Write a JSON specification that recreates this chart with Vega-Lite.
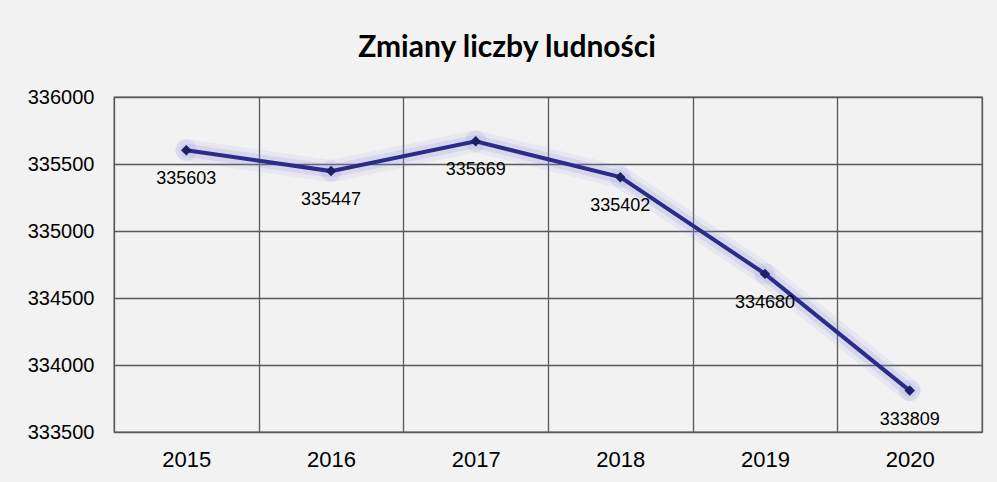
{
  "$schema": "https://vega.github.io/schema/vega-lite/v6.json",
  "autosize": {"type": "none"},
  "padding": {"left": 114, "top": 97, "right": 15, "bottom": 50},
  "width": 868,
  "height": 335,
  "background": "#f2f2f2",
  "title": {
    "text": "Zmiany liczby ludności",
    "font": "Lato",
    "fontSize": 30,
    "fontWeight": "bold",
    "color": "#000000",
    "anchor": "middle",
    "dx": -41,
    "offset": 24
  },
  "config": {
    "view": {"stroke": "#595959", "strokeWidth": 1.3, "fill": "#f2f2f2"},
    "axis": {"labelFont": "Liberation Sans", "labelColor": "#000000", "gridColor": "#595959", "gridWidth": 1.3, "gridOpacity": 1, "domain": false, "ticks": false}
  },
  "data": {
    "values": [
      {"rok": "2015", "ludnosc": 335603},
      {"rok": "2016", "ludnosc": 335447},
      {"rok": "2017", "ludnosc": 335669},
      {"rok": "2018", "ludnosc": 335402},
      {"rok": "2019", "ludnosc": 334680},
      {"rok": "2020", "ludnosc": 333809}
    ]
  },
  "encoding": {
    "x": {
      "field": "rok",
      "type": "ordinal",
      "scale": {"paddingInner": 0, "paddingOuter": 0},
      "axis": {"title": null, "labelAngle": 0, "labelFontSize": 22, "labelPadding": 17, "tickBand": "extent", "grid": true}
    },
    "y": {
      "field": "ludnosc",
      "type": "quantitative",
      "scale": {"domain": [333500, 336000], "nice": false, "zero": false},
      "axis": {"title": null, "format": "d", "values": [333500, 334000, 334500, 335000, 335500, 336000], "labelFontSize": 20, "labelPadding": 20, "grid": true}
    }
  },
  "layer": [
    {"mark": {"type": "line", "color": "#8c8ce6", "strokeWidth": 22, "opacity": 0.1, "strokeCap": "round", "strokeJoin": "round"}},
    {"mark": {"type": "line", "color": "#8c8ce6", "strokeWidth": 13, "opacity": 0.18, "strokeCap": "round", "strokeJoin": "round"}},
    {"mark": {"type": "point", "shape": "circle", "filled": true, "color": "#8c8ce6", "size": 450, "opacity": 0.15}},
    {"mark": {"type": "line", "color": "#2b2b8a", "strokeWidth": 4}},
    {"mark": {"type": "point", "shape": "diamond", "filled": true, "color": "#1f1f66", "size": 110, "opacity": 1}},
    {
      "mark": {"type": "text", "dy": 29, "font": "Liberation Sans", "fontSize": 18, "color": "#000000"},
      "encoding": {"text": {"field": "ludnosc", "type": "quantitative", "format": "d"}}
    }
  ]
}
